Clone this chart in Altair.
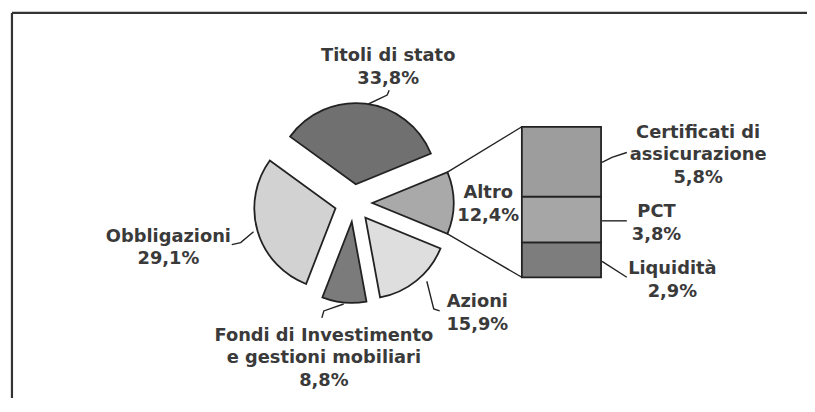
import math
import altair as alt
import pandas as pd

# ---------------- data ----------------
pie_categories = ["Altro", "Azioni", "Fondi di Investimento e gestioni mobiliari",
                  "Obbligazioni", "Titoli di stato"]
pie_values = [12.4, 15.9, 8.8, 29.1, 33.8]

bar_categories = ["Liquidità", "PCT", "Certificati di assicurazione"]
bar_values = [2.9, 3.8, 5.8]

# ---------------- styles ----------------
pie_colors = ["#a9a9a9", "#dedede", "#7b7b7b", "#d2d2d2", "#707070"]
bar_colors = ["#7d7d7d", "#a6a6a6", "#9d9d9d"]
INK = "#222222"
TEXT = "#3a3a3a"
FONT = "DejaVu Sans"

# ---------------- layout (page pixels) ----------------
M = 8                       # page margin
W, H = 807, 392
CX, CY = 357, 203           # pie centre
R = 82                      # pie radius
EXPLODE = 19                # explosion distance
BAR_X0, BAR_X1, BAR_TOP, BAR_BOTTOM = 527, 607, 126, 278

wrap = {
    "Fondi di Investimento e gestioni mobiliari": "Fondi di Investimento\ne gestioni mobiliari",
    "Certificati di assicurazione": "Certificati di\nassicurazione",
}
# label anchor: centre x, first-line baseline y
label_pos = {
    "Titoli di stato": (392, 60),
    "Obbligazioni": (170, 242),
    "Fondi di Investimento e gestioni mobiliari": (327, 342),
    "Azioni": (482, 308),
    "Altro": (493, 198),
    "Certificati di assicurazione": (705, 137),
    "PCT": (663, 217),
    "Liquidità": (679, 275),
}
leaders = {
    "Titoli di stato": [(372, 103), (391, 94), (393, 89)],
    "Obbligazioni": [(234, 245), (243, 243), (256, 232)],
    "Fondi di Investimento e gestioni mobiliari": [(325, 319), (327, 312), (347, 305)],
    "Azioni": [(431, 282), (438, 310), (444, 312)],
    "Certificati di assicurazione": [(608, 162), (618, 157), (633, 152)],
    "PCT": [(608, 221), (633, 221)],
    "Liquidità": [(608, 262), (633, 278)],
}

# ---------------- derived tables ----------------
def pct(v):
    return f"{v:.1f}".replace(".", ",") + "%"

total = sum(pie_values)
a0 = math.pi / 2 - (pie_values[0] / total) * math.pi   # "Altro" centred at 3 o'clock
TWO_PI = 2 * math.pi

pie_df = pd.DataFrame({"cat": pie_categories, "value": pie_values,
                       "order": list(range(len(pie_values)))})
bar_df = pd.DataFrame({"cat": bar_categories, "value": bar_values,
                       "order": list(range(len(bar_values)))})
bar_total = sum(bar_values)

pie = (
    alt.Chart(pie_df)
    .transform_window(cum="sum(value)", sort=[alt.SortField("order")])
    .transform_calculate(start="datum.cum - datum.value")
    .transform_calculate(
        mid=f"{a0} + (datum.start + datum.value / 2) / {total} * {TWO_PI}"
    )
    .transform_calculate(
        px=f"{CX - M} + {EXPLODE} * sin(datum.mid)",
        py=f"{CY - M} - {EXPLODE} * cos(datum.mid)",
    )
    .mark_arc(outerRadius=R, stroke=INK, strokeWidth=1.8)
    .encode(
        theta=alt.Theta("start:Q", stack=False,
                        scale=alt.Scale(domain=[0, total], range=[a0, a0 + TWO_PI])),
        theta2=alt.Theta2("cum:Q"),
        x=alt.X("px:Q", scale=None, axis=None),
        y=alt.Y("py:Q", scale=None, axis=None),
        color=alt.Color("cat:N", legend=None,
                        scale=alt.Scale(domain=pie_categories, range=pie_colors)),
    )
)

bar = (
    alt.Chart(bar_df)
    .transform_window(cum="sum(value)", sort=[alt.SortField("order")])
    .transform_calculate(start="datum.cum - datum.value")
    .mark_bar(stroke=INK, strokeWidth=1.8)
    .encode(
        x=alt.value(BAR_X0 - M),
        x2=alt.value(BAR_X1 - M),
        y=alt.Y("start:Q", axis=None,
                scale=alt.Scale(domain=[0, bar_total], range=[BAR_BOTTOM - M, BAR_TOP - M])),
        y2=alt.Y2("cum:Q"),
        color=alt.Color("cat:N", legend=None,
                        scale=alt.Scale(domain=bar_categories, range=bar_colors)),
    )
)

# connectors from the "Altro" slice to the bar
altro_mid = a0 + (pie_values[0] / 2) / total * TWO_PI
acx = CX + EXPLODE * math.sin(altro_mid)
acy = CY - EXPLODE * math.cos(altro_mid)
t_start = a0
t_end = a0 + pie_values[0] / total * TWO_PI
conn_df = pd.DataFrame({
    "x": [acx + R * math.sin(t_start) - M, acx + R * math.sin(t_end) - M],
    "y": [acy - R * math.cos(t_start) - M, acy - R * math.cos(t_end) - M],
    "x2": [BAR_X0 - M, BAR_X0 - M],
    "y2": [BAR_TOP - M, BAR_BOTTOM - M],
})
connectors = alt.Chart(conn_df).mark_rule(color=INK, strokeWidth=1.4).encode(
    x=alt.X("x:Q", scale=None, axis=None),
    y=alt.Y("y:Q", scale=None, axis=None),
    x2="x2:Q",
    y2="y2:Q",
)

# leader lines
lead_rows = []
for name, pts in leaders.items():
    for i, (lx, ly) in enumerate(pts):
        lead_rows.append({"g": name, "i": i, "x": lx - M, "y": ly - M})
lead = alt.Chart(pd.DataFrame(lead_rows)).mark_line(color=INK, strokeWidth=1.4).encode(
    x=alt.X("x:Q", scale=None, axis=None),
    y=alt.Y("y:Q", scale=None, axis=None),
    detail="g:N",
    order="i:Q",
)

# labels
lab_rows = []
for name, v in list(zip(pie_categories, pie_values)) + list(zip(bar_categories, bar_values)):
    lx, ly = label_pos[name]
    lab_rows.append({"t": wrap.get(name, name) + "\n" + pct(v), "x": lx - M, "y": ly - M})
labels = alt.Chart(pd.DataFrame(lab_rows)).mark_text(
    font=FONT, fontSize=18, fontWeight="bold", lineBreak="\n", lineHeight=23,
    align="center", baseline="alphabetic", color=TEXT,
).encode(
    x=alt.X("x:Q", scale=None, axis=None),
    y=alt.Y("y:Q", scale=None, axis=None),
    text="t:N",
)

# frame (left and top edges visible)
one = pd.DataFrame({"k": [0]})
frame_left = alt.Chart(one).mark_rule(color="#333333", strokeWidth=2.2).encode(
    x=alt.value(12 - M), y=alt.value(11 - M), y2=alt.value(H))
frame_top = alt.Chart(one).mark_rule(color="#333333", strokeWidth=2.2).encode(
    x=alt.value(12 - M), x2=alt.value(W), y=alt.value(11 - M))

chart = (
    alt.layer(frame_left, frame_top, connectors, pie, bar, lead, labels)
    .resolve_scale(x="independent", y="independent", color="independent", theta="independent")
    .properties(width=W, height=H, padding=0,
                autosize=alt.AutoSizeParams(type="none"), background="white")
    .configure_view(strokeWidth=0)
)

chart.save("out.html", embed_options={"renderer": "svg", "actions": False})
